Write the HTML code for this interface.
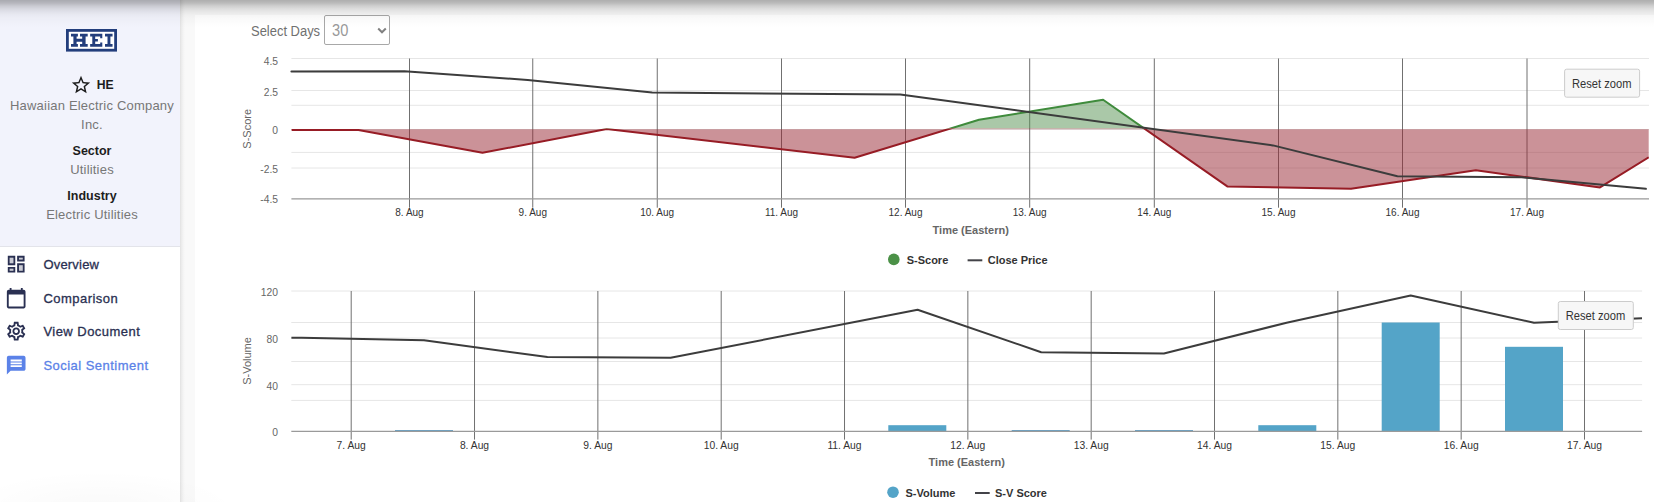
<!DOCTYPE html>
<html><head><meta charset="utf-8"><style>
*{box-sizing:border-box}
html,body{margin:0;padding:0;width:1654px;height:502px;overflow:hidden;background:#f9f9f9;font-family:"Liberation Sans",sans-serif}
.abs{position:absolute}
#side{position:absolute;left:0;top:0;width:180px;height:502px;background:#fff}
#sidetop{position:absolute;left:0;top:0;width:180px;height:247px;background:#f2f3fc;border-bottom:1px solid #e3e4ea}
#sideshadow{position:absolute;left:180px;top:0;width:5px;height:502px;background:linear-gradient(to right,#e2e2e2,#ececec 30%,#f5f5f5 70%,#f9f9f9)}
#card{position:absolute;left:195px;top:15px;width:1480px;height:500px;background:#fff}
#topshadow{position:absolute;left:0;top:0;width:1654px;height:30px;background:linear-gradient(to bottom,rgba(0,0,0,.30) 0px,rgba(0,0,0,.25) 3px,rgba(0,0,0,.17) 6px,rgba(0,0,0,.11) 9px,rgba(0,0,0,.07) 12px,rgba(0,0,0,.04) 15px,rgba(0,0,0,.025) 18px,rgba(0,0,0,.015) 21px,rgba(0,0,0,.007) 24px,rgba(0,0,0,0) 28px)}
.ctr{position:absolute;left:0;width:184px;text-align:center;white-space:nowrap}
.gray{color:#777;font-size:13px;letter-spacing:.2px}
.bold{color:#1d1d1d;font-size:12.5px;font-weight:bold}
.nav{position:absolute;left:43.4px;font-size:13px;font-weight:normal;-webkit-text-stroke:0.3px currentColor;color:#2a3052;white-space:nowrap;letter-spacing:0.47px}
.navi{position:absolute;left:5.25px}
svg text{font-family:"Liberation Sans",sans-serif}
.yl{font-size:10.3px;fill:#666}
.xl{font-size:10.3px;fill:#333}
.yt{font-size:11px;fill:#666}
.xt{font-size:11px;font-weight:bold;fill:#666}
.lg{font-size:11px;font-weight:bold;fill:#333}
.rz{font-size:12px;fill:#333}
#sel{position:absolute;left:324.3px;top:15.3px;width:65.5px;height:29.3px;border:1px solid #a8a8a8;border-radius:2px;background:#fff}
</style></head><body>
<div id="card"></div>
<div id="side">
 <div id="sidetop"></div>
</div>
<div id="sideshadow"></div>
<svg class="abs" style="left:66px;top:29px" width="52" height="23" viewBox="0 0 52 23">
 <rect x="1.4" y="1.4" width="48.2" height="19.8" fill="#fff" stroke="#233e7c" stroke-width="2.8"/>
 <g fill="#233e7c">
  <path d="M5 4.8H11.9V7.5H10.6V9.7H16.2V7.5H14V4.8H21.7V7.5H19.6V15.1H21.7V17.8H14V15.1H16.2V12.7H10.6V15.1H11.9V17.8H5V15.1H7.4V7.5H5Z"/>
  <path d="M24.15 4.8H36.3V9.2H34.2V7.5H29.2V10.1H31.9V12.4H29.2V15.1H34.2V13.5H36.3V17.8H24.15V15.1H26.3V7.5H24.15Z"/>
  <path d="M39 4.8H46.55V7.5H44.4V15.1H46.55V17.8H39V15.1H41.5V7.5H39Z"/>
 </g>
</svg>
<div class="abs" style="left:69.75px;top:73.9px"><svg width="22" height="22" viewBox="0 0 24 24"><path fill="#1c1c1c" d="M22 9.24l-7.19-.62L12 2 9.19 8.63 2 9.24l5.46 4.73L5.82 21 12 17.27 18.18 21l-1.63-7.03L22 9.24zM12 15.4l-3.76 2.27 1-4.28-3.32-2.88 4.38-.38L12 6.1l1.71 4.04 4.38.38-3.32 2.88 1 4.28L12 15.4z"/></svg></div>
<div class="abs" style="left:96.7px;top:78.3px;font-size:12.2px;font-weight:bold;color:#1d1d1d">HE</div>
<div class="ctr gray" style="top:98px">Hawaiian Electric Company</div>
<div class="ctr gray" style="top:117px">Inc.</div>
<div class="ctr bold" style="top:143.5px">Sector</div>
<div class="ctr gray" style="top:162px">Utilities</div>
<div class="ctr bold" style="top:189px">Industry</div>
<div class="ctr gray" style="top:207px">Electric Utilities</div>
<div class="navi" style="top:252.9px"><svg width="22.4" height="22.4" viewBox="0 0 24 24" style="display:block"><path fill="#2a3052" opacity=".25" d="M5 5h4v6H5zm10 8h4v6h-4zM5 17h4v2H5zM15 5h4v2h-4z"/><path fill="#2a3052" d="M19 5v2h-4V5h4M9 5v6H5V5h4m10 8v6h-4v-6h4M9 17v2H5v-2h4M21 3h-8v6h8V3zM11 3H3v10h8V3zm10 8h-8v10h8V11zm-10 4H3v6h8v-6z"/></svg></div>
<div class="nav" style="top:257px;letter-spacing:0.2px">Overview</div>
<div class="navi" style="top:287px"><svg width="22.4" height="22.4" viewBox="0 0 24 24" style="display:block"><path fill="#2a3052" d="M20 3h-1V1h-2v2H7V1H5v2H4c-1.1 0-2 .9-2 2v16c0 1.1.9 2 2 2h16c1.1 0 2-.9 2-2V5c0-1.1-.9-2-2-2zm0 18H4V8h16v13z"/></svg></div>
<div class="nav" style="top:291px">Comparison</div>
<div class="navi" style="top:319.6px"><svg width="22.4" height="22.4" viewBox="0 0 24 24" style="display:block"><path fill="#2a3052" d="M19.43 12.98c.04-.32.07-.64.07-.98 0-.34-.03-.66-.07-.98l2.11-1.65c.19-.15.24-.42.12-.64l-2-3.46c-.09-.16-.26-.25-.44-.25-.06 0-.12.01-.17.03l-2.49 1c-.52-.4-1.08-.73-1.69-.98l-.38-2.65C14.46 2.18 14.25 2 14 2h-4c-.25 0-.46.18-.49.42l-.38 2.65c-.61.25-1.17.59-1.69.98l-2.49-1c-.06-.02-.12-.03-.18-.03-.17 0-.34.09-.43.25l-2 3.46c-.13.22-.07.49.12.64l2.11 1.65c-.04.32-.07.65-.07.98 0 .33.03.66.07.98l-2.11 1.65c-.19.15-.24.42-.12.64l2 3.46c.09.16.26.25.44.25.06 0 .12-.01.17-.03l2.49-1c.52.4 1.08.73 1.69.98l.38 2.65c.03.24.24.42.49.42h4c.25 0 .46-.18.49-.42l.38-2.65c.61-.25 1.17-.59 1.69-.98l2.49 1c.06.02.12.03.18.03.17 0 .34-.09.43-.25l2-3.46c.12-.22.07-.49-.12-.64l-2.11-1.65zm-1.98-1.71c.04.31.05.52.05.73 0 .21-.02.43-.05.73l-.14 1.13.89.7 1.08.84-.7 1.21-1.27-.51-1.04-.42-.9.68c-.43.32-.84.56-1.25.73l-1.06.43-.16 1.13-.2 1.35h-1.4l-.19-1.35-.16-1.13-1.06-.43c-.43-.18-.83-.41-1.23-.71l-.91-.7-1.06.43-1.27.51-.7-1.21 1.08-.84.89-.7-.14-1.13c-.03-.31-.05-.54-.05-.74s.02-.43.05-.73l.14-1.13-.89-.7-1.08-.84.7-1.21 1.27.51 1.04.42.9-.68c.43-.32.84-.56 1.25-.73l1.06-.43.16-1.13.2-1.35h1.39l.19 1.35.16 1.13 1.06.43c.43.18.83.41 1.23.71l.91.7 1.06-.43 1.27-.51.7 1.21-1.07.85-.89.7.14 1.13zM12 8c-2.21 0-4 1.79-4 4s1.79 4 4 4 4-1.79 4-4-1.79-4-4-4zm0 6c-1.1 0-2-.9-2-2s.9-2 2-2 2 .9 2 2-.9 2-2 2z"/></svg></div>
<div class="nav" style="top:324px">View Document</div>
<div class="navi" style="top:353.5px"><svg width="22.4" height="22.4" viewBox="0 0 24 24" style="display:block"><path fill="#5b82e8" d="M20 2H4c-1.1 0-1.99.9-1.99 2L2 22l4-4h14c1.1 0 2-.9 2-2V4c0-1.1-.9-2-2-2zm-2 12H6v-2h12v2zm0-3H6V9h12v2zm0-3H6V6h12v2z"/></svg></div>
<div class="nav" style="top:358px;color:#5b82e8">Social Sentiment</div>

<div class="abs" style="left:251px;top:23.1px;font-size:14px;color:#707070;transform:scaleX(0.925);transform-origin:0 0;white-space:nowrap">Select Days</div>
<div id="sel"></div>
<div class="abs" style="left:332.4px;top:21.3px;font-size:17px;color:#999;transform:scaleX(0.86);transform-origin:0 0">30</div>
<svg class="abs" style="left:377px;top:26.6px" width="10" height="8" viewBox="0 0 10 8"><path d="M1.2 1.5l3.8 3.8 3.8-3.8" fill="none" stroke="#808080" stroke-width="2"/></svg>

<svg class="abs" style="left:0;top:0" width="1654" height="502" viewBox="0 0 1654 502">
<defs><clipPath id="cpTop"><rect x="291.4" y="0" width="1357.6" height="128.6"/></clipPath>
<clipPath id="cpBot"><rect x="291.4" y="128.6" width="1357.6" height="100"/></clipPath></defs>
<line x1="291.4" y1="58.5" x2="1649" y2="58.5" stroke="#e6e6e6" stroke-width="1"/>
<line x1="291.4" y1="90.5" x2="1649" y2="90.5" stroke="#e6e6e6" stroke-width="1"/>
<line x1="291.4" y1="105.3" x2="1649" y2="105.3" stroke="#e6e6e6" stroke-width="1"/>
<line x1="291.4" y1="152.4" x2="1649" y2="152.4" stroke="#e6e6e6" stroke-width="1"/>
<line x1="291.4" y1="168.0" x2="1649" y2="168.0" stroke="#e6e6e6" stroke-width="1"/>
<line x1="291.4" y1="129.5" x2="1649" y2="129.5" stroke="#e6e6e6" stroke-width="1"/>
<line x1="409.50" y1="58.5" x2="409.50" y2="207.7" stroke="#707070" stroke-width="1"/>
<line x1="532.75" y1="58.5" x2="532.75" y2="207.7" stroke="#707070" stroke-width="1"/>
<line x1="657.25" y1="58.5" x2="657.25" y2="207.7" stroke="#707070" stroke-width="1"/>
<line x1="781.50" y1="58.5" x2="781.50" y2="207.7" stroke="#707070" stroke-width="1"/>
<line x1="905.50" y1="58.5" x2="905.50" y2="207.7" stroke="#707070" stroke-width="1"/>
<line x1="1029.70" y1="58.5" x2="1029.70" y2="207.7" stroke="#707070" stroke-width="1"/>
<line x1="1154.30" y1="58.5" x2="1154.30" y2="207.7" stroke="#707070" stroke-width="1"/>
<line x1="1278.50" y1="58.5" x2="1278.50" y2="207.7" stroke="#707070" stroke-width="1"/>
<line x1="1402.50" y1="58.5" x2="1402.50" y2="207.7" stroke="#707070" stroke-width="1"/>
<line x1="1527.00" y1="58.5" x2="1527.00" y2="207.7" stroke="#707070" stroke-width="1"/>
<line x1="291.4" y1="198.8" x2="1649" y2="198.8" stroke="#999" stroke-width="1.2"/>
<polygon points="291.4,130.0 358.4,130.0 482.5,152.8 606.7,129.1 854.6,157.8 979.0,119.8 1103.1,99.8 1227.3,186.4 1351.0,188.7 1475.8,170.2 1600.0,187.4 1648.7,157.3 1648.7,129.3 291.4,129.3" fill="rgb(85,145,81)" fill-opacity="0.5" clip-path="url(#cpTop)"/>
<polygon points="291.4,130.0 358.4,130.0 482.5,152.8 606.7,129.1 854.6,157.8 979.0,119.8 1103.1,99.8 1227.3,186.4 1351.0,188.7 1475.8,170.2 1600.0,187.4 1648.7,157.3 1648.7,129.3 291.4,129.3" fill="rgb(151,37,49)" fill-opacity="0.5" clip-path="url(#cpBot)"/>
<polyline points="291.4,130.0 358.4,130.0 482.5,152.8 606.7,129.1 854.6,157.8 979.0,119.8 1103.1,99.8 1227.3,186.4 1351.0,188.7 1475.8,170.2 1600.0,187.4 1648.7,157.3" fill="none" stroke="#3f8b3c" stroke-width="2" stroke-linejoin="round" clip-path="url(#cpTop)"/>
<polyline points="291.4,130.0 358.4,130.0 482.5,152.8 606.7,129.1 854.6,157.8 979.0,119.8 1103.1,99.8 1227.3,186.4 1351.0,188.7 1475.8,170.2 1600.0,187.4 1648.7,157.3" fill="none" stroke="#971c25" stroke-width="2" stroke-linejoin="round" clip-path="url(#cpBot)"/>
<polyline points="291.4,71.5 404.4,71.3 527.7,79.9 652.2,92.6 900.3,94.4 1273.0,145.4 1397.4,176.3 1521.6,177.3 1645.9,188.8" fill="none" stroke="#3c3c3c" stroke-width="2" stroke-linejoin="round" stroke-linecap="round"/>
<text x="278" y="65.0" text-anchor="end" class="yl">4.5</text>
<text x="278" y="95.6" text-anchor="end" class="yl">2.5</text>
<text x="278" y="134.4" text-anchor="end" class="yl">0</text>
<text x="278" y="172.8" text-anchor="end" class="yl">-2.5</text>
<text x="278" y="203.4" text-anchor="end" class="yl">-4.5</text>
<text x="409.5" y="216.1" text-anchor="middle" class="xl" style="font-size:10px">8. Aug</text>
<text x="532.8" y="216.1" text-anchor="middle" class="xl" style="font-size:10px">9. Aug</text>
<text x="657.2" y="216.1" text-anchor="middle" class="xl" style="font-size:10px">10. Aug</text>
<text x="781.5" y="216.1" text-anchor="middle" class="xl" style="font-size:10px">11. Aug</text>
<text x="905.5" y="216.1" text-anchor="middle" class="xl" style="font-size:10px">12. Aug</text>
<text x="1029.7" y="216.1" text-anchor="middle" class="xl" style="font-size:10px">13. Aug</text>
<text x="1154.3" y="216.1" text-anchor="middle" class="xl" style="font-size:10px">14. Aug</text>
<text x="1278.5" y="216.1" text-anchor="middle" class="xl" style="font-size:10px">15. Aug</text>
<text x="1402.5" y="216.1" text-anchor="middle" class="xl" style="font-size:10px">16. Aug</text>
<text x="1527.0" y="216.1" text-anchor="middle" class="xl" style="font-size:10px">17. Aug</text>
<text transform="translate(250.7,128.8) rotate(-90)" text-anchor="middle" class="yt">S-Score</text>
<text x="970.7" y="233.9" text-anchor="middle" class="xt">Time (Eastern)</text>
<circle cx="893.8" cy="259.4" r="5.8" fill="#4b9147"/>
<text x="906.7" y="264.1" class="lg">S-Score</text>
<rect x="967.6" y="259.3" width="14.7" height="2" fill="#434348"/>
<text x="987.7" y="264.1" class="lg">Close Price</text>
<rect x="1564.6" y="69.2" width="75" height="28" rx="2" fill="#f7f7f7" stroke="#cccccc" stroke-width="1"/>
<text transform="translate(1572,87.6) scale(0.93,1)" class="rz">Reset zoom</text>
<line x1="291.3" y1="291" x2="1642.1" y2="291" stroke="#e6e6e6" stroke-width="1"/>
<line x1="291.3" y1="322.5" x2="1642.1" y2="322.5" stroke="#e6e6e6" stroke-width="1"/>
<line x1="291.3" y1="338" x2="1642.1" y2="338" stroke="#e6e6e6" stroke-width="1"/>
<line x1="291.3" y1="361.5" x2="1642.1" y2="361.5" stroke="#e6e6e6" stroke-width="1"/>
<line x1="291.3" y1="384.7" x2="1642.1" y2="384.7" stroke="#e6e6e6" stroke-width="1"/>
<line x1="291.3" y1="400.4" x2="1642.1" y2="400.4" stroke="#e6e6e6" stroke-width="1"/>
<line x1="351.20" y1="291" x2="351.20" y2="439.6" stroke="#707070" stroke-width="1"/>
<line x1="474.53" y1="291" x2="474.53" y2="439.6" stroke="#707070" stroke-width="1"/>
<line x1="597.86" y1="291" x2="597.86" y2="439.6" stroke="#707070" stroke-width="1"/>
<line x1="721.19" y1="291" x2="721.19" y2="439.6" stroke="#707070" stroke-width="1"/>
<line x1="844.52" y1="291" x2="844.52" y2="439.6" stroke="#707070" stroke-width="1"/>
<line x1="967.85" y1="291" x2="967.85" y2="439.6" stroke="#707070" stroke-width="1"/>
<line x1="1091.18" y1="291" x2="1091.18" y2="439.6" stroke="#707070" stroke-width="1"/>
<line x1="1214.51" y1="291" x2="1214.51" y2="439.6" stroke="#707070" stroke-width="1"/>
<line x1="1337.84" y1="291" x2="1337.84" y2="439.6" stroke="#707070" stroke-width="1"/>
<line x1="1461.17" y1="291" x2="1461.17" y2="439.6" stroke="#707070" stroke-width="1"/>
<line x1="1584.50" y1="291" x2="1584.50" y2="439.6" stroke="#707070" stroke-width="1"/>
<rect x="395.0" y="430.2" width="58" height="1.0" fill="#3f8cbc"/>
<rect x="888.3" y="425.2" width="58" height="6.0" fill="#54a4c8"/>
<rect x="1011.7" y="430.2" width="58" height="1.0" fill="#3f8cbc"/>
<rect x="1135.0" y="430.2" width="58" height="1.0" fill="#3f8cbc"/>
<rect x="1258.3" y="425.2" width="58" height="6.0" fill="#54a4c8"/>
<rect x="1381.7" y="322.5" width="58" height="108.7" fill="#54a4c8"/>
<rect x="1505.0" y="346.8" width="58" height="84.4" fill="#54a4c8"/>
<line x1="291.3" y1="431.3" x2="1642.1" y2="431.3" stroke="#9a9a9a" stroke-width="1.2"/>
<polyline points="291.4,337.8 301.6,337.8 424.0,340.3 547.4,357.1 670.6,357.8 917.6,309.8 1041.2,352.2 1163.9,353.5 1286.6,322.7 1410.7,295.4 1534.0,322.7 1642.0,318.3" fill="none" stroke="#3c3c3c" stroke-width="2" stroke-linejoin="round"/>
<text x="278" y="296.0" text-anchor="end" class="yl">120</text>
<text x="278" y="342.8" text-anchor="end" class="yl">80</text>
<text x="278" y="389.5" text-anchor="end" class="yl">40</text>
<text x="278" y="436.0" text-anchor="end" class="yl">0</text>
<text x="351.2" y="449" text-anchor="middle" class="xl">7. Aug</text>
<text x="474.5" y="449" text-anchor="middle" class="xl">8. Aug</text>
<text x="597.9" y="449" text-anchor="middle" class="xl">9. Aug</text>
<text x="721.2" y="449" text-anchor="middle" class="xl">10. Aug</text>
<text x="844.5" y="449" text-anchor="middle" class="xl">11. Aug</text>
<text x="967.8" y="449" text-anchor="middle" class="xl">12. Aug</text>
<text x="1091.2" y="449" text-anchor="middle" class="xl">13. Aug</text>
<text x="1214.5" y="449" text-anchor="middle" class="xl">14. Aug</text>
<text x="1337.8" y="449" text-anchor="middle" class="xl">15. Aug</text>
<text x="1461.2" y="449" text-anchor="middle" class="xl">16. Aug</text>
<text x="1584.5" y="449" text-anchor="middle" class="xl">17. Aug</text>
<text transform="translate(250.7,361) rotate(-90)" text-anchor="middle" class="yt">S-Volume</text>
<text x="966.7" y="466.2" text-anchor="middle" class="xt">Time (Eastern)</text>
<circle cx="893" cy="492.2" r="5.8" fill="#54a4c8"/>
<text x="905.5" y="496.8" class="lg">S-Volume</text>
<rect x="975" y="492" width="14.7" height="2" fill="#434348"/>
<text x="995" y="496.8" class="lg">S-V Score</text>
<rect x="1558.3" y="301.5" width="75" height="28" rx="2" fill="#f7f7f7" stroke="#cccccc" stroke-width="1"/>
<text transform="translate(1565.7,319.9) scale(0.93,1)" class="rz">Reset zoom</text>
</svg>
<div id="topshadow"></div>
<div style="position:absolute;left:-40px;top:470px;width:280px;height:80px;border-radius:50%;background:radial-gradient(ellipse at center,rgba(0,0,0,.025),rgba(0,0,0,0) 70%)"></div>
</body></html>
